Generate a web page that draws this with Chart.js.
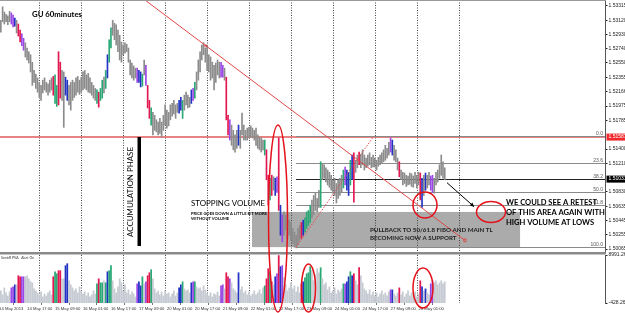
<!DOCTYPE html>
<html>
<head>
<meta charset="utf-8">
<script src="https://cdn.jsdelivr.net/npm/chart.js@4.4.1/dist/chart.umd.min.js"></script>
<style>
  html, body { margin: 0; padding: 0; background: #fff; }
  body { width: 625px; height: 313px; position: relative; overflow: hidden; }
  canvas { position: absolute; left: 0; }
  #priceChart { top: 0; }
  #volChart { top: 250px; }
</style>
</head>
<body>
<canvas id="priceChart" width="625" height="256"></canvas>
<canvas id="volChart" width="625" height="63"></canvas>
<script>
// GBPUSD H1, 14-28 May 2013. bar number = hours counted from 14 May 00:00 (weekend skipped)
var firstBar = 2;

var highs = [
  1.5312,1.5330,1.5323,1.5320,1.5318,1.5324,1.5322,1.5319,1.5315,1.5312,
  1.5307,1.5299,1.5294,1.5288,1.5282,1.5275,1.5270,1.5266,1.5256,1.5245,
  1.5240,1.5235,1.5229,1.5225,1.5232,1.5235,1.5229,1.5227,1.5232,1.5235,
  1.5237,1.5239,1.5225,1.5270,1.5256,1.5245,1.5243,1.5236,1.5232,1.5225,
  1.5229,1.5232,1.5229,1.5235,1.5237,1.5232,1.5236,1.5243,1.5245,1.5239,
  1.5241,1.5235,1.5229,1.5225,1.5221,1.5219,1.5216,1.5221,1.5232,1.5236,
  1.5245,1.5266,1.5286,1.5302,1.5312,1.5308,1.5306,1.5299,1.5292,1.5283,
  1.5279,1.5282,1.5280,1.5275,1.5259,1.5255,1.5251,1.5248,1.5248,1.5245,
  1.5243,1.5240,1.5259,1.5252,1.5225,1.5205,1.5195,1.5189,1.5185,1.5179,
  1.5176,1.5181,1.5176,1.5185,1.5199,1.5192,1.5189,1.5199,1.5201,1.5205,
  1.5199,1.5201,1.5205,1.5209,1.5205,1.5212,1.5216,1.5212,1.5209,1.5219,
  1.5221,1.5229,1.5243,1.5259,1.5270,1.5279,1.5282,1.5275,1.5279,1.5266,
  1.5263,1.5256,1.5252,1.5255,1.5259,1.5256,1.5256,1.5252,1.5248,1.5236,
  1.5185,1.5179,1.5172,1.5165,1.5159,1.5165,1.5172,1.5165,1.5188,1.5172,
  1.5165,1.5168,1.5169,1.5171,1.5168,1.5165,1.5168,1.5159,1.5156,1.5155,
  1.5152,1.5152,1.5139,1.5105,1.5101,1.5105,1.5103,1.5101,1.5103,1.5155,
  1.5065,1.5052,1.5056,1.5052,1.5054,1.5045,1.5042,1.5034,1.5029,1.5025,
  1.5034,1.5038,1.5042,1.5045,1.5048,1.5056,1.5058,1.5065,1.5072,1.5078,
  1.5081,1.5074,1.5085,1.5123,1.5121,1.5119,1.5115,1.5112,1.5109,1.5105,
  1.5099,1.5101,1.5094,1.5099,1.5101,1.5105,1.5112,1.5116,1.5112,1.5109,
  1.5125,1.5132,1.5135,1.5125,1.5132,1.5136,1.5133,1.5139,1.5132,1.5128,
  1.5132,1.5135,1.5129,1.5132,1.5128,1.5125,1.5129,1.5132,1.5135,1.5139,
  1.5145,1.5141,1.5149,1.5155,1.5152,1.5145,1.5139,1.5128,1.5123,1.5112,
  1.5109,1.5108,1.5105,1.5104,1.5108,1.5107,1.5104,1.5109,1.5105,1.5109,
  1.5108,1.5101,1.5105,1.5108,1.5105,1.5109,1.5104,1.5105,1.5101,1.5109,
  1.5112,1.5119,1.5132,1.5123,1.5115
];

var lows = [
  1.5296,1.5310,1.5307,1.5310,1.5306,1.5310,1.5307,1.5303,1.5304,1.5295,
  1.5291,1.5283,1.5278,1.5272,1.5263,1.5259,1.5255,1.5243,1.5225,1.5229,
  1.5221,1.5216,1.5209,1.5205,1.5215,1.5219,1.5216,1.5212,1.5216,1.5219,
  1.5212,1.5201,1.5197,1.5199,1.5208,1.5205,1.5169,1.5212,1.5205,1.5199,
  1.5192,1.5205,1.5209,1.5212,1.5216,1.5213,1.5216,1.5219,1.5221,1.5219,
  1.5216,1.5215,1.5212,1.5208,1.5205,1.5201,1.5196,1.5205,1.5208,1.5215,
  1.5221,1.5235,1.5256,1.5275,1.5292,1.5286,1.5279,1.5270,1.5259,1.5256,
  1.5266,1.5268,1.5270,1.5256,1.5239,1.5235,1.5232,1.5235,1.5229,1.5229,
  1.5223,1.5224,1.5239,1.5225,1.5195,1.5181,1.5172,1.5159,1.5165,1.5163,
  1.5159,1.5161,1.5156,1.5165,1.5172,1.5168,1.5171,1.5179,1.5184,1.5187,
  1.5181,1.5189,1.5188,1.5192,1.5181,1.5192,1.5199,1.5195,1.5196,1.5201,
  1.5205,1.5208,1.5219,1.5232,1.5243,1.5259,1.5266,1.5256,1.5245,1.5243,
  1.5232,1.5235,1.5219,1.5229,1.5239,1.5235,1.5236,1.5236,1.5232,1.5179,
  1.5159,1.5152,1.5145,1.5139,1.5136,1.5141,1.5145,1.5141,1.5159,1.5152,
  1.5152,1.5152,1.5155,1.5156,1.5155,1.5152,1.5145,1.5141,1.5139,1.5136,
  1.5139,1.5132,1.5099,1.5065,1.5072,1.5078,1.5085,1.5078,1.5082,1.5058,
  1.5025,1.5016,1.5025,1.5032,1.5022,1.5025,1.5018,1.5014,1.5009,1.5008,
  1.5012,1.5018,1.5021,1.5025,1.5029,1.5034,1.5038,1.5042,1.5048,1.5052,
  1.5058,1.5056,1.5062,1.5062,1.5099,1.5101,1.5096,1.5092,1.5089,1.5085,
  1.5081,1.5078,1.5068,1.5074,1.5078,1.5082,1.5088,1.5092,1.5085,1.5078,
  1.5092,1.5099,1.5069,1.5109,1.5115,1.5119,1.5115,1.5119,1.5112,1.5115,
  1.5117,1.5119,1.5115,1.5116,1.5116,1.5112,1.5117,1.5119,1.5121,1.5123,
  1.5125,1.5128,1.5132,1.5136,1.5132,1.5125,1.5123,1.5112,1.5103,1.5099,
  1.5092,1.5094,1.5090,1.5092,1.5093,1.5090,1.5089,1.5094,1.5088,1.5092,
  1.5072,1.5062,1.5078,1.5085,1.5088,1.5092,1.5085,1.5082,1.5081,1.5092,
  1.5096,1.5101,1.5105,1.5101,1.5099
];

var volumes = [
  1950,1160,2540,1550,960,1750,2540,2740,3140,3140,
  4920,4720,4720,4720,4720,4920,4320,3730,3530,2340,
  1950,1550,1160,1750,760,1350,960,1550,1950,1160,
  4720,5710,5310,5910,5910,4320,4320,6900,7290,3930,
  3140,2540,1950,2340,1550,2740,1950,1350,1750,960,
  1550,760,1160,1950,1350,3330,4320,3530,3530,3930,
  3530,5710,5910,6900,3930,2340,1550,2740,4320,3530,
  1950,3140,1550,2150,1160,1750,1350,760,3330,3730,
  2940,4720,3330,3730,4920,5510,6110,4320,2340,1550,
  1950,1160,1750,960,1950,1350,1550,760,1350,1950,
  960,1550,2540,3140,3730,2340,1950,2150,1550,3530,
  3730,3730,2740,2340,2540,1950,2940,2150,1350,960,
  1550,760,1350,1160,1750,960,2940,3140,2340,5510,
  4720,4320,3530,2340,1950,1550,5510,2150,2740,1550,
  1950,1160,1750,960,1350,1950,1160,1550,2150,1350,
  2540,2940,4320,6300,5710,3730,3140,4720,5310,8880,
  6700,6900,4520,3140,1950,2540,3530,2340,2940,1750,
  2740,1550,3330,3730,4520,5310,5510,6700,5910,3930,
  5120,6300,5510,6500,4320,3140,3530,2150,2740,1550,
  1950,2540,1350,2150,1750,2340,3330,3330,3730,4720,
  5710,4920,5310,3930,3140,6500,4920,3530,2340,1950,
  1350,2150,1160,1750,960,1550,760,1350,1950,1160,
  1550,960,1750,2150,2150,1350,960,1550,2540,1160,
  1750,760,1350,1950,960,1550,1160,1750,760,1350,
  3930,2740,1950,2340,1550,1160,3330,3930,3530,3930,
  3140,3530,3930,3330,3730
];

// PVA class of every bar: n normal, r climax down, g climax up, b/p rising volume
var barClass = [
  'nnnnnnppbn','rrppnnnnnn','nnnnnnnnnn','rggrrnnbbn','nnnnnnnnnn',
  'nnnnngrggn','gbggnnnnnn','nnnnnnnnpb','bgnprrgnnn','nnnnnnnnnn',
  'nnbbgnnnnb','pgnnnnnnnn','nnnnnnppnr','rpnnnnbnnn','nnnnnnnnnn',
  'ngrrgrnbpr','bpnnnnnnnn','nnrbggggnn','nnngnnnnnn','nnnnnngpbb',
  'gbrnnrnnnn','nnnnnnnnnn','nnnpbnnnrn','nnnnnnnnnn','rbnbnnppnn','nnnnn'
].join('').split('');

var priceTicks = [1.53315, 1.53120, 1.52930, 1.52740, 1.52550, 1.52355, 1.52166, 1.51975,
  1.51785, 1.51400, 1.51210, 1.50830, 1.50635, 1.50445, 1.50255, 1.50065];
var volTicks = [8991.26, -428.26];
var timeTickBars = [1, 17, 33, 49, 65, 81, 97, 113, 129, 145, 161, 177, 193, 209, 225, 241];
var timeTickLabels = ['14 May 2013', '14 May 17:00', '15 May 09:00', '16 May 01:00', '16 May 17:00',
  '17 May 09:00', '20 May 01:00', '20 May 17:00', '21 May 09:00', '22 May 01:00', '22 May 17:00',
  '23 May 09:00', '24 May 01:00', '24 May 17:00', '27 May 09:00', '28 May 01:00'];
var dayStarts = [24, 48, 72, 96, 120, 144, 168, 192, 216, 240, 264];

// drawn objects, in bar number / price
var resistance = 1.5156, resistanceText = '1.51587';
var fibLow = {bar: 170.9, price: 1.5009}, fibHigh = {bar: 215, price: 1.5156};
var fibLevels = [0, 23.6, 38.2, 50, 61.8, 100];
var bidText = '1.51031';
var zone = {from: 145.7, to: 299.1, top: 1.5056, bottom: 1.5009};
var mainTL = [{bar: 84.5, price: 1.5339}, {bar: 267.6, price: 1.5018}];
var arrow = [{bar: 257.3, price: 1.5095}, {bar: 272.8, price: 1.5063}];

var PRICE_MIN = 1.50025, PRICE_MAX = 1.53391;
var VOL_MIN = -428.26, VOL_MAX = 8991.26;
var X_MIN = 1.51, X_MAX = 347.7;

var classColors = {
  price: {n: '#8c8c8c', r: '#e3174f', g: '#2aa876', b: '#2233c4', p: '#9a48e6'},
  volume: {n: '#c6cad2', r: '#e3174f', g: '#2aa876', b: '#2233c4', p: '#9a48e6'}
};

// notes written on the screenshot (page pixels)
var notes = [
  {lines: ['GU 60minutes'], x: 32, y: 14.5, w: 50, weight: 'bold'},
  {lines: ['ACCUMULATION PHASE'], x: 130.5, y: 192, w: 90, weight: 'normal', rotate: true},
  {lines: ['STOPPING VOLUME'], x: 191, y: 203, w: 74, weight: 'normal'},
  {lines: ['PRICE GOES DOWN A LITTLE BIT MORE', 'WITHOUT VOLUME'], x: 191, y: 214, lead: 5, w: 76, weight: 'bold'},
  {lines: ['PULLBACK TO 50/61.8 FIBO AND MAIN TL', 'BECOMING NOW A SUPPORT'], x: 370, y: 230, lead: 8.5, w: 123, weight: 'bold', color: '#222'},
  {lines: ['WE COULD SEE A RETEST', 'OF THIS AREA AGAIN WITH', 'HIGH VOLUME AT LOWS'], x: 506, y: 203, lead: 10, w: 91, weight: 'bold'},
  {lines: ['SonicR PVA   Alert On'], x: 1, y: 257.5, w: 33, weight: 'normal', color: '#333'}
];
var rings = [
  {x: 278, y: 218.5, rx: 9.5, ry: 93.5},
  {x: 308.5, y: 288, rx: 7, ry: 24},
  {x: 425, y: 205, rx: 12, ry: 13},
  {x: 491, y: 212, rx: 14.5, ry: 10.5},
  {x: 423, y: 288, rx: 10, ry: 20}
];
var accBar = {x: 137.5, y: 137, w: 3.5, h: 109};

function drawDayLines(ctx, xs, area) {
  ctx.save();
  ctx.strokeStyle = '#444';
  ctx.lineWidth = 1;
  ctx.setLineDash([1, 1.5]);
  dayStarts.forEach(function(b) {
    var px = Math.round(xs.getPixelForValue(b)) + 0.5;
    ctx.beginPath();
    ctx.moveTo(px, area.top);
    ctx.lineTo(px, area.bottom);
    ctx.stroke();
  });
  ctx.restore();
}

function drawNotes(ctx, top) {
  ctx.save();
  ctx.translate(0, -top);
  ctx.fillStyle = '#000';
  ctx.fillRect(accBar.x, accBar.y, accBar.w, accBar.h);
  notes.forEach(function(n) {
    ctx.font = n.weight + ' 10px Lato';
    var size = 10 * n.w / ctx.measureText(n.lines[0]).width;
    ctx.font = n.weight + ' ' + size.toFixed(2) + 'px Lato';
    ctx.fillStyle = n.color || '#000';
    ctx.textBaseline = 'middle';
    if (n.rotate) {
      ctx.save();
      ctx.translate(n.x, n.y);
      ctx.rotate(-Math.PI / 2);
      ctx.textAlign = 'center';
      ctx.fillText(n.lines[0], 0, 0);
      ctx.restore();
    } else {
      ctx.textAlign = 'left';
      n.lines.forEach(function(line, k) {
        ctx.fillText(line, n.x, n.y + k * (n.lead || 0));
      });
    }
  });
  ctx.strokeStyle = '#e3121b';
  ctx.lineWidth = 1.5;
  rings.forEach(function(r) {
    ctx.beginPath();
    ctx.ellipse(r.x, r.y, r.rx, r.ry, 0, 0, Math.PI * 2);
    ctx.stroke();
  });
  ctx.restore();
}

function fibPrice(level) {
  return fibHigh.price - level / 100 * (fibHigh.price - fibLow.price);
}

var pricePlugin = {
  id: 'priceDrawings',
  beforeDatasetsDraw: function(chart) {
    var ctx = chart.ctx, xs = chart.scales.x, ys = chart.scales.y, a = chart.chartArea;
    ctx.save();
    // support zone
    var zx0 = xs.getPixelForValue(zone.from), zx1 = xs.getPixelForValue(zone.to);
    var zy0 = ys.getPixelForValue(zone.top), zy1 = ys.getPixelForValue(zone.bottom);
    ctx.fillStyle = '#ababab';
    ctx.fillRect(zx0, zy0, zx1 - zx0, zy1 - zy0);
    drawDayLines(ctx, xs, a);
    // resistance line
    var ry = ys.getPixelForValue(resistance);
    ctx.strokeStyle = '#e05a5a';
    ctx.lineWidth = 1.5;
    ctx.beginPath();
    ctx.moveTo(a.left, ry);
    ctx.lineTo(a.right, ry);
    ctx.stroke();
    // fibo levels
    var fx = xs.getPixelForValue(fibLow.bar);
    ctx.lineWidth = 1;
    fibLevels.forEach(function(l) {
      var fy = Math.round(ys.getPixelForValue(fibPrice(l))) + 0.5;
      ctx.strokeStyle = l === 38.2 ? '#222' : '#8a8a8a';
      ctx.beginPath();
      ctx.moveTo(fx, fy - (l === 0 ? 1 : 0));
      ctx.lineTo(a.right, fy - (l === 0 ? 1 : 0));
      ctx.stroke();
    });
    ctx.restore();
  },
  afterDraw: function(chart) {
    var ctx = chart.ctx, xs = chart.scales.x, ys = chart.scales.y, a = chart.chartArea;
    ctx.save();
    ctx.beginPath();
    ctx.rect(a.left, a.top, a.right - a.left, a.bottom - a.top);
    ctx.clip();
    // main trend line
    var t0x = xs.getPixelForValue(mainTL[0].bar), t0y = ys.getPixelForValue(mainTL[0].price);
    var t1x = xs.getPixelForValue(mainTL[1].bar), t1y = ys.getPixelForValue(mainTL[1].price);
    ctx.strokeStyle = '#e04848';
    ctx.lineWidth = 1;
    ctx.beginPath();
    ctx.moveTo(t0x - (t1x - t0x) * 0.1, t0y - (t1y - t0y) * 0.1);
    ctx.lineTo(t1x, t1y);
    ctx.stroke();
    ctx.beginPath();
    ctx.arc(t1x, t1y, 1.5, 0, Math.PI * 2);
    ctx.stroke();
    ctx.beginPath();
    ctx.arc(t0x + (t1x - t0x) * 0.19, t0y + (t1y - t0y) * 0.19, 1, 0, Math.PI * 2);
    ctx.stroke();
    // fibo base line
    ctx.setLineDash([1.5, 1.5]);
    ctx.beginPath();
    ctx.moveTo(xs.getPixelForValue(fibLow.bar), ys.getPixelForValue(fibLow.price));
    ctx.lineTo(xs.getPixelForValue(fibHigh.bar), ys.getPixelForValue(fibHigh.price));
    ctx.stroke();
    ctx.setLineDash([]);
    // arrow
    var ax0 = xs.getPixelForValue(arrow[0].bar), ay0 = ys.getPixelForValue(arrow[0].price);
    var ax1 = xs.getPixelForValue(arrow[1].bar), ay1 = ys.getPixelForValue(arrow[1].price);
    var ang = Math.atan2(ay1 - ay0, ax1 - ax0);
    ctx.strokeStyle = '#000';
    ctx.fillStyle = '#000';
    ctx.beginPath();
    ctx.moveTo(ax0, ay0);
    ctx.lineTo(ax1, ay1);
    ctx.stroke();
    ctx.beginPath();
    ctx.moveTo(ax1, ay1);
    ctx.lineTo(ax1 - 4.5 * Math.cos(ang - 0.45), ay1 - 4.5 * Math.sin(ang - 0.45));
    ctx.lineTo(ax1 - 4.5 * Math.cos(ang + 0.45), ay1 - 4.5 * Math.sin(ang + 0.45));
    ctx.closePath();
    ctx.fill();
    // fibo labels
    ctx.fillStyle = '#555';
    ctx.font = '5px "Liberation Sans"';
    ctx.textAlign = 'right';
    ctx.textBaseline = 'bottom';
    fibLevels.forEach(function(l) {
      var fy = ys.getPixelForValue(fibPrice(l));
      ctx.fillText(l.toFixed(1), a.right - 2, fy - (l === 0 ? 1 : 0));
    });
    ctx.restore();

    // pane frame
    ctx.save();
    ctx.fillStyle = '#9a9a9a';
    ctx.fillRect(0, 0, a.right + 1, 1);
    ctx.fillStyle = '#8a8a8a';
    ctx.fillRect(0, a.bottom, a.right + 1, 2.5);
    // price boxes on the axis
    [{price: resistance, fill: '#f0282d', text: resistanceText},
     {price: fibPrice(38.2), fill: '#000', text: bidText}].forEach(function(b) {
      var py = ys.getPixelForValue(b.price);
      ctx.fillStyle = b.fill;
      ctx.fillRect(a.right + 1.5, py - 3.5, 19, 7);
      ctx.fillStyle = '#fff';
      ctx.font = '5px "Liberation Sans"';
      ctx.textAlign = 'left';
      ctx.textBaseline = 'middle';
      ctx.fillText(b.text, a.right + 3.5, py);
    });
    ctx.restore();
    drawNotes(ctx, 0);
  }
};

var volPlugin = {
  id: 'volDrawings',
  beforeDatasetsDraw: function(chart) {
    drawDayLines(chart.ctx, chart.scales.x, chart.chartArea);
  },
  afterDraw: function(chart) {
    var ctx = chart.ctx;
    ctx.save();
    ctx.beginPath();
    ctx.rect(0, 6, 625, 60);
    ctx.clip();
    drawNotes(ctx, 250);
    ctx.restore();
  }
};

function timeAxis(show) {
  return {
    type: 'linear', min: X_MIN, max: X_MAX, offset: false, display: show,
    afterBuildTicks: function(s) {
      s.ticks = timeTickBars.map(function(v) { return {value: v}; });
    },
    afterFit: function(s) {
      if (show) { s.height = 10; }
      s.paddingLeft = 0;
      s.paddingRight = 0;
    },
    grid: {display: true, drawOnChartArea: false, drawTicks: true, tickLength: 2, color: '#777'},
    border: {display: false},
    ticks: {
      autoSkip: false, maxRotation: 0, minRotation: 0, align: 'start', padding: 1,
      color: '#333', font: {family: 'Liberation Sans', size: 4.2},
      callback: function(v, i) { return timeTickLabels[i]; }
    }
  };
}

function valueAxis(min, max, ticks, digits) {
  return {
    type: 'linear', position: 'right', min: min, max: max,
    afterBuildTicks: function(s) {
      s.ticks = ticks.map(function(v) { return {value: v}; });
    },
    afterFit: function(s) {
      s.width = 20;
      s.paddingTop = 0;
      s.paddingBottom = 0;
    },
    grid: {drawOnChartArea: false, drawTicks: true, tickLength: 2.5, color: '#222'},
    border: {display: true, color: '#555'},
    ticks: {
      padding: 1, color: '#222', font: {family: 'Liberation Sans', size: 5},
      callback: function(v) { return Number(v).toFixed(digits); }
    }
  };
}

Chart.defaults.animation = false;

new Chart(document.getElementById('priceChart'), {
  type: 'bar',
  data: {
    datasets: [{
      data: lows.map(function(lo, k) { return {x: firstBar + k, y: [lo, highs[k]]}; }),
      backgroundColor: barClass.map(function(c) { return classColors.price[c]; }),
      barThickness: 1,
      borderWidth: 0
    }]
  },
  options: {
    responsive: false,
    devicePixelRatio: 1,
    layout: {padding: {left: 0, right: 0, top: 0, bottom: 4}},
    plugins: {legend: {display: false}, tooltip: {enabled: false}},
    scales: {
      x: timeAxis(false),
      y: valueAxis(PRICE_MIN, PRICE_MAX, priceTicks, 5)
    }
  },
  plugins: [pricePlugin]
});

new Chart(document.getElementById('volChart'), {
  type: 'bar',
  data: {
    datasets: [{
      data: volumes.map(function(v, k) { return {x: firstBar + k, y: [VOL_MIN, v]}; }),
      backgroundColor: barClass.map(function(c) { return classColors.volume[c]; }),
      barThickness: 1.1,
      borderWidth: 0
    }]
  },
  options: {
    responsive: false,
    devicePixelRatio: 1,
    layout: {padding: {left: 0, right: 0, top: 5, bottom: 0}},
    plugins: {legend: {display: false}, tooltip: {enabled: false}},
    scales: {
      x: timeAxis(true),
      y: valueAxis(VOL_MIN, VOL_MAX, volTicks, 2)
    }
  },
  plugins: [volPlugin]
});
</script>
</body>
</html>
